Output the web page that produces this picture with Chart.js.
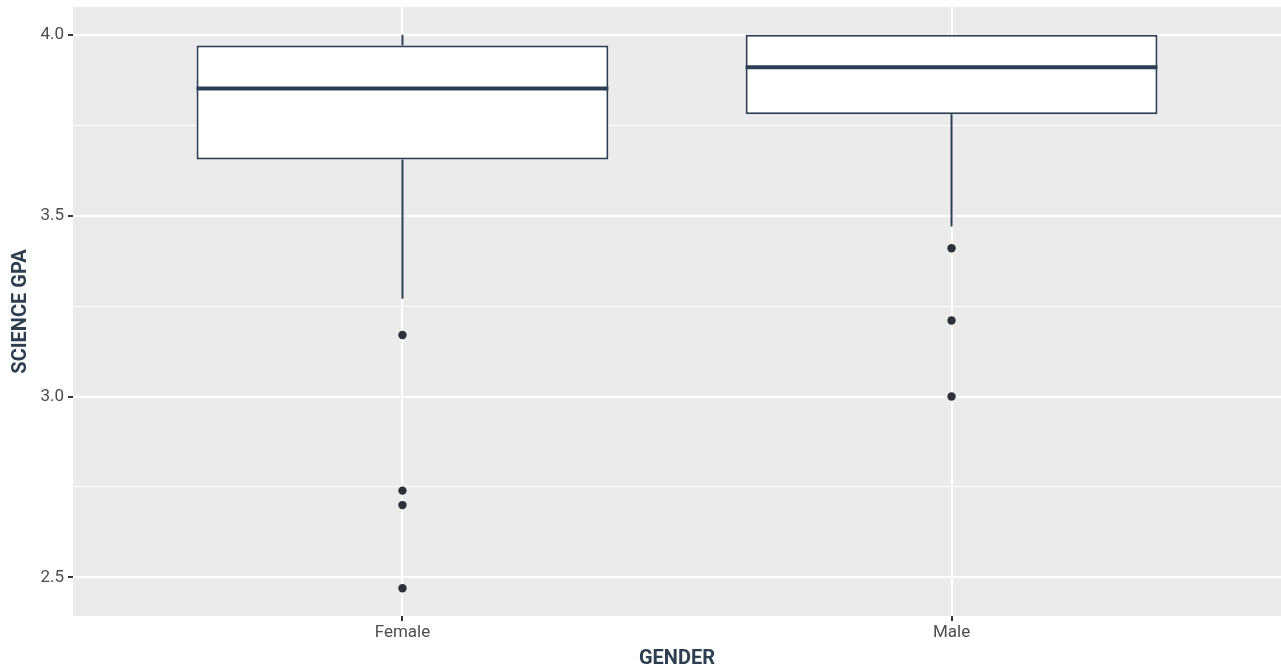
<!DOCTYPE html>
<html>
<head>
<meta charset="utf-8">
<script src="https://cdn.jsdelivr.net/npm/chart.js@4"></script>
<style>
  html, body { margin: 0; padding: 0; background: #ffffff; overflow: hidden; }
  #wrap { width: 1281px; height: 669px; position: relative; }
  canvas { display: block; }
</style>
</head>
<body>
<div id="wrap"><canvas id="c" width="1281" height="669"></canvas></div>
<script>
// ---- data ----
const categories = ['Female', 'Male'];
const q1Values = [3.655, 3.78];
const medianValues = [3.851, 3.91];
const q3Values = [3.97, 4.0];
const whiskerLow = [3.27, 3.47];
const whiskerHigh = [4.0, 4.0];
const femaleOutliers = [3.17, 2.74, 2.70, 2.47];
const maleOutliers = [3.41, 3.21, 3.00];
const yMajorTicks = [2.5, 3.0, 3.5, 4.0];
const yMinorTicks = [2.75, 3.25, 3.75];

// ---- styles / layout constants ----
const BOX_WIDTH = 0.75;
const LINE_COL = '#2c3e56';
const POINT_COL = '#2b303b';
const PANEL_BG = '#ebebeb';
const Y_MIN = 2.3935, Y_MAX = 4.0765;

const outlierSets = [femaleOutliers, maleOutliers];

const boxData = categories.map((c, i) => ({ x: i + 1, y: [q1Values[i], q3Values[i]] }));

const whiskerData = [];
categories.forEach((c, i) => {
  whiskerData.push({ x: i + 1, y: whiskerLow[i] }, { x: i + 1, y: q1Values[i] }, { x: i + 1, y: null });
  whiskerData.push({ x: i + 1, y: q3Values[i] }, { x: i + 1, y: whiskerHigh[i] }, { x: i + 1, y: null });
});

const medianData = [];
categories.forEach((c, i) => {
  medianData.push({ x: i + 1 - BOX_WIDTH / 2, y: medianValues[i] },
                  { x: i + 1 + BOX_WIDTH / 2, y: medianValues[i] },
                  { x: i + 1, y: null });
});

const outlierData = [];
outlierSets.forEach((arr, i) => arr.forEach(v => outlierData.push({ x: i + 1, y: v })));

const panelBg = {
  id: 'panelBg',
  beforeDraw(chart) {
    const { ctx, chartArea: a } = chart;
    ctx.save();
    ctx.fillStyle = PANEL_BG;
    ctx.fillRect(a.left, a.top, a.right - a.left, a.bottom - a.top);
    ctx.restore();
  }
};

const isMajor = v => yMajorTicks.some(t => Math.abs(t - v) < 1e-9);
const zeroPad = s => { s.paddingTop = 0; s.paddingBottom = 0; s.paddingLeft = 0; s.paddingRight = 0; };

new Chart(document.getElementById('c'), {
  type: 'bar',
  data: {
    datasets: [
      {
        type: 'line', data: whiskerData, borderColor: LINE_COL, borderWidth: 2,
        pointRadius: 0, spanGaps: false, order: 4, borderCapStyle: 'butt'
      },
      {
        type: 'bar', data: boxData, backgroundColor: '#ffffff', borderColor: LINE_COL,
        borderWidth: 2, borderSkipped: false, barPercentage: BOX_WIDTH,
        categoryPercentage: 1, order: 3
      },
      {
        type: 'line', data: medianData, borderColor: LINE_COL, borderWidth: 4,
        pointRadius: 0, spanGaps: false, order: 2, borderCapStyle: 'butt'
      },
      {
        type: 'scatter', data: outlierData, backgroundColor: POINT_COL, borderColor: POINT_COL,
        pointRadius: 4.2, borderWidth: 0, order: 1
      }
    ]
  },
  options: {
    responsive: false,
    animation: false,
    events: [],
    layout: { autoPadding: false, padding: { top: 7, right: 0, left: 0, bottom: 0 } },
    plugins: { legend: { display: false }, tooltip: { enabled: false } },
    scales: {
      x: {
        type: 'linear', min: 0.4, max: 2.6, offset: false,
        afterBuildTicks(scale) { scale.ticks = categories.map((c, i) => ({ value: i + 1 })); },
        afterFit(scale) { scale.height = 53; zeroPad(scale); },
        ticks: {
          callback: v => categories[Math.round(v) - 1] || '',
          color: '#4d4d4d', font: { family: 'Roboto', size: 17 }, padding: 2, maxRotation: 0, autoSkip: false
        },
        grid: { offset: false, color: '#ffffff', lineWidth: 2, tickColor: '#333333', tickLength: 5, tickWidth: 2 },
        border: { display: false },
        title: {
          display: true, text: 'GENDER', color: '#2c3e50',
          font: { family: 'Roboto', size: 20, weight: 'bold', lineHeight: 1 }, padding: { top: 0, bottom: 0 }
        }
      },
      y: {
        type: 'linear', min: Y_MIN, max: Y_MAX,
        afterBuildTicks(scale) {
          scale.ticks = yMajorTicks.concat(yMinorTicks).sort((a, b) => a - b).map(v => ({ value: v }));
        },
        afterFit(scale) { scale.width = 73; zeroPad(scale); },
        ticks: {
          callback: v => isMajor(v) ? v.toFixed(1) : '',
          color: '#4d4d4d', font: { family: 'Roboto', size: 17 }, padding: 4, autoSkip: false
        },
        grid: {
          color: '#ffffff',
          lineWidth: ctx => isMajor(ctx.tick.value) ? 2 : 1,
          tickColor: ctx => isMajor(ctx.tick.value) ? '#333333' : 'rgba(0,0,0,0)',
          tickLength: 5, tickWidth: 2
        },
        border: { display: false },
        title: {
          display: true, text: 'SCIENCE GPA', color: '#2c3e50',
          font: { family: 'Roboto', size: 20, weight: 'bold', lineHeight: 1 }, padding: { top: 11, bottom: 0 }
        }
      }
    }
  },
  plugins: [panelBg]
});
</script>
</body>
</html>
